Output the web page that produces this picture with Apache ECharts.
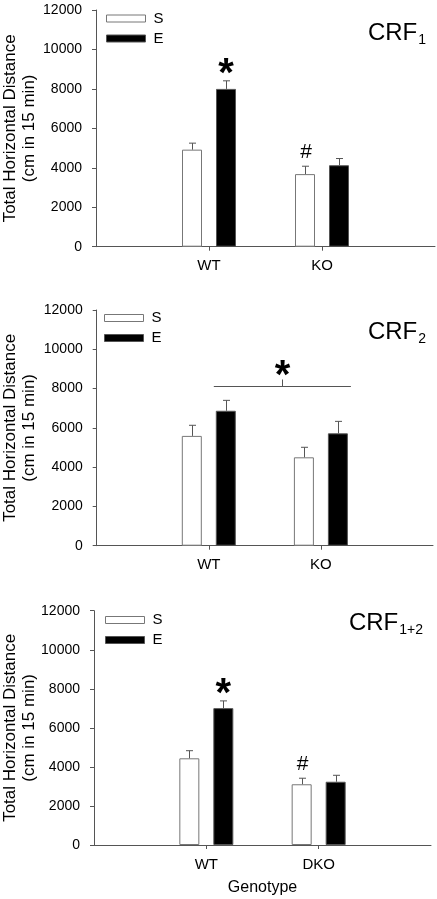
<!DOCTYPE html>
<html>
<head>
<meta charset="utf-8">
<script src="https://cdn.jsdelivr.net/npm/echarts@6/dist/echarts.min.js"></script>
<style>
html,body{margin:0;padding:0;background:#fff;}
#chart{width:437px;height:899px;}
</style>
</head>
<body>
<div id="chart"></div>
<script>
// ---- data ----
const groups1 = ['WT', 'KO'];
const groups2 = ['WT', 'KO'];
const groups3 = ['WT', 'DKO'];

const sMean1 = [4920, 3680];
const sErr1  = [330, 400];
const eMean1 = [8000, 4130];
const eErr1  = [410, 340];

const sMean2 = [5590, 4500];
const sErr2  = [540, 510];
const eMean2 = [6870, 5720];
const eErr2  = [530, 610];

const sMean3 = [4440, 3110];
const sErr3  = [390, 310];
const eMean3 = [7010, 3240];
const eErr3  = [370, 330];

const yMin = 0, yMax = 12000, yStep = 2000;
const legendNames = ['S', 'E'];
const panelTitles = [['CRF', '1'], ['CRF', '2'], ['CRF', '1+2']];
const yName = 'Total Horizontal Distance\n(cm in 15 min)';
const xName = 'Genotype';

// significance marks: [panel, group, series, symbol]
const sigMarks = [
  [0, 'WT', 'E', '*'],
  [0, 'KO', 'S', '#'],
  [2, 'WT', 'E', '*'],
  [2, 'DKO', 'S', '#']
];

// ---- layout ----
const FONT = 'Liberation Sans, Arial, Helvetica, sans-serif';
const grids = [
  {left: 96, top: 10, width: 339, height: 236.7, outerBoundsMode: 'none', containLabel: false},
  {left: 96.7, top: 310, width: 336.3, height: 235.7, outerBoundsMode: 'none', containLabel: false},
  {left: 94, top: 610.7, width: 337, height: 234.3, outerBoundsMode: 'none', containLabel: false}
];
const BAR_W = 20, BAR_OFF = 17;
const AXIS_COL = '#555';

const panels = [
  {groups: groups1, s: sMean1, se: sErr1, e: eMean1, ee: eErr1},
  {groups: groups2, s: sMean2, se: sErr2, e: eMean2, ee: eErr2},
  {groups: groups3, s: sMean3, se: sErr3, e: eMean3, ee: eErr3}
];

const xAxes = [], yAxes = [], series = [], legends = [], titles = [];
panels.forEach((p, i) => {
  const cats = [''].concat(p.groups, [' ']);
  xAxes.push({
    type: 'category', gridIndex: i, data: cats, boundaryGap: false,
    axisLine: {lineStyle: {color: AXIS_COL, width: 1}},
    axisTick: {show: true, length: 4, interval: (idx) => idx === 1 || idx === 2, lineStyle: {color: AXIS_COL}},
    axisLabel: {color: '#000', fontSize: 15, fontFamily: FONT, margin: 12, interval: 0},
    splitLine: {show: false},
    name: i === 2 ? xName : '', nameLocation: 'middle', nameGap: 35, nameMoveOverlap: false,
    nameTextStyle: {color: '#000', fontSize: 16, fontFamily: FONT}
  });
  yAxes.push({
    type: 'value', gridIndex: i, min: yMin, max: yMax, interval: yStep,
    axisLine: {show: true, lineStyle: {color: AXIS_COL, width: 1}},
    axisTick: {show: true, length: 4, inside: false, lineStyle: {color: AXIS_COL}},
    axisLabel: {color: '#000', fontSize: 14, fontFamily: FONT, margin: 14, formatter: (v) => String(v)},
    splitLine: {show: false},
    name: yName, nameLocation: 'middle', nameRotate: 90, nameGap: i === 2 ? 55 : 57.5,
    nameMoveOverlap: false,
    nameTextStyle: {color: '#000', fontSize: 17, lineHeight: 19, fontFamily: FONT}
  });
  series.push({
    name: 'S', type: 'bar', xAxisIndex: i, yAxisIndex: i, barWidth: BAR_W, barGap: '70%',
    itemStyle: {color: '#fff', borderColor: '#777', borderWidth: 1},
    data: p.groups.map((g, k) => [g, p.s[k]])
  });
  series.push({
    name: 'E', type: 'bar', xAxisIndex: i, yAxisIndex: i, barWidth: BAR_W, barGap: '70%',
    itemStyle: {color: '#000', borderColor: '#555', borderWidth: 1},
    data: p.groups.map((g, k) => [g, p.e[k]])
  });
  const errRender = (off, col) => function (params, api) {
    const top = api.coord([api.value(0), api.value(1) + api.value(2)]);
    const base = api.coord([api.value(0), api.value(1)]);
    const x = Math.round(top[0] + off) + 0.5;
    const st = {stroke: col, lineWidth: 1};
    return {type: 'group', children: [
      {type: 'line', shape: {x1: x, y1: base[1], x2: x, y2: top[1]}, style: st},
      {type: 'line', shape: {x1: x - 3.5, y1: top[1], x2: x + 3.5, y2: top[1]}, style: st}
    ]};
  };
  series.push({
    type: 'custom', xAxisIndex: i, yAxisIndex: i, z: 5, silent: true,
    renderItem: errRender(-BAR_OFF, '#555'),
    encode: {x: 0, y: 1},
    data: p.groups.map((g, k) => [g, p.s[k], p.se[k]])
  });
  series.push({
    type: 'custom', xAxisIndex: i, yAxisIndex: i, z: 5, silent: true,
    renderItem: errRender(BAR_OFF, '#555'),
    encode: {x: 0, y: 1},
    data: p.groups.map((g, k) => [g, p.e[k], p.ee[k]])
  });
});

const legendTops = [11, 310.5, 612.5];
const legendLefts = [106, 104, 105];
legendTops.forEach((t, i) => {
  legends.push({
    orient: 'vertical', left: legendLefts[i], top: t, itemWidth: 39, itemHeight: 7, itemGap: 5,
    selectedMode: false, padding: 0,
    textStyle: {color: '#000', fontSize: 15, lineHeight: 15, fontFamily: FONT, padding: [0, 0, 0, 3]},
    data: [
      {name: legendNames[0], icon: 'rect', itemStyle: {color: '#fff', borderColor: '#777', borderWidth: 1}},
      {name: legendNames[1], icon: 'rect', itemStyle: {color: '#000', borderColor: '#555', borderWidth: 1}}
    ]
  });
});

const titleTops = [14, 313, 604];
panelTitles.forEach((t, i) => {
  titles.push({
    text: t[0] + '{s|' + t[1] + '}', right: i === 2 ? 9 : 6, top: titleTops[i],
    textStyle: {color: '#000', fontSize: 24, fontWeight: 'normal', fontFamily: FONT,
      rich: {s: {fontSize: 14, fontFamily: FONT, color: '#000', padding: [14, 0, 0, 1]}}}
  });
});

const chart = echarts.init(document.getElementById('chart'), null, {renderer: 'canvas'});
chart.setOption({
  animation: false,
  backgroundColor: '#fff',
  title: titles,
  legend: legends,
  grid: grids,
  xAxis: xAxes,
  yAxis: yAxes,
  series: series
});

// annotations positioned via the chart's own scales
const graphics = [];
sigMarks.forEach(([pi, g, sName, sym]) => {
  const p = panels[pi];
  const k = p.groups.indexOf(g);
  const val = sName === 'S' ? p.s[k] + p.se[k] : p.e[k] + p.ee[k];
  const pt = chart.convertToPixel({gridIndex: pi}, [g, val]);
  const x = pt[0] + (sName === 'S' ? -BAR_OFF : BAR_OFF);
  if (sym === '*') {
    graphics.push({type: 'text', x: x, y: pt[1] + 14, z: 10,
      style: {text: '*', fontSize: 40, fontWeight: 'bold', fontFamily: FONT, fill: '#000',
        textAlign: 'center', textVerticalAlign: 'bottom'}});
  } else {
    graphics.push({type: 'text', x: x + 1, y: pt[1] - 4, z: 10,
      style: {text: '#', fontSize: 21, fontFamily: FONT, fill: '#000',
        textAlign: 'center', textVerticalAlign: 'bottom'}});
  }
});
// bracket on panel 2 (main effect)
const bracketVal = 8150;
const bL = chart.convertToPixel({gridIndex: 1}, [groups2[0], bracketVal]);
const bR = chart.convertToPixel({gridIndex: 1}, [groups2[1], bracketVal]);
const x1 = bL[0] + 5, x2 = bR[0] + 30, yb = Math.round(bL[1]) + 0.5, xm = Math.round((x1 + x2) / 2) + 0.5;
graphics.push({type: 'line', z: 10, shape: {x1: x1, y1: yb, x2: x2, y2: yb}, style: {stroke: '#555', lineWidth: 1}});
graphics.push({type: 'line', z: 10, shape: {x1: xm, y1: yb, x2: xm, y2: yb - 7}, style: {stroke: '#555', lineWidth: 1}});
graphics.push({type: 'text', x: xm, y: yb + 10, z: 10,
  style: {text: '*', fontSize: 40, fontWeight: 'bold', fontFamily: FONT, fill: '#000',
    textAlign: 'center', textVerticalAlign: 'bottom'}});
chart.setOption({graphic: graphics});
</script>
</body>
</html>
